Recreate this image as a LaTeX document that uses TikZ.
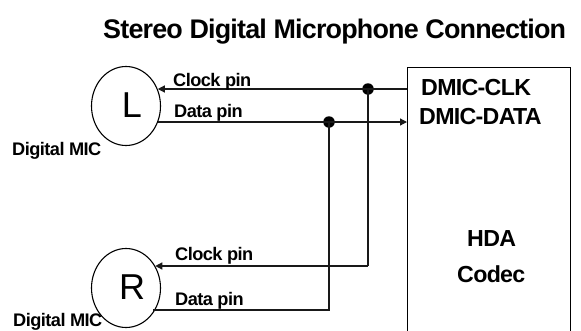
\documentclass[tikz,border=0pt]{standalone}
\usepackage{fontspec}
\setmainfont{Liberation Sans}
\newfontfamily\tightbold[LetterSpace=-3,BoldFont={Liberation Sans Bold}]{Liberation Sans}
\usetikzlibrary{shapes.geometric,arrows.meta}
\tikzset{
  x=1pt,y=-1pt,
  wire/.style={line width=1.2pt,black!90},
  arrowwire/.style={wire,-{Triangle[length=7pt,width=7pt]}},
  mic/.style={draw,ellipse,line width=1.1pt,minimum width=69pt,minimum height=79pt,inner sep=0pt},
  junction/.style={circle,fill=black,inner sep=0pt,minimum size=11.5pt},
  lbl/.style={inner sep=0pt,anchor=base west,font=\tightbold\bfseries\fontsize{18.2}{20}\selectfont},
  biglbl/.style={inner sep=0pt,anchor=base west,font=\tightbold\bfseries\fontsize{23.2}{26}\selectfont},
  title/.style={inner sep=0pt,anchor=base west,font=\tightbold\bfseries\fontsize{26.9}{30}\selectfont},
  letter/.style={font=\fontsize{36}{40}\selectfont}
}
\begin{document}
\begin{tikzpicture}
\useasboundingbox (0,0) rectangle (581,330);
\clip (0,0) rectangle (581,330);
\node[title] (t) at (103,38) {Stereo Digital Microphone Connection};
\node[mic] (micL) at (126,106) {};
\node[mic] (micR) at (126,288) {};
\node[letter] (letL) at (132,105) {L};
\node[letter] (letR) at (132,287) {R};
\node[draw,line width=1.2pt,minimum width=163pt,minimum height=280pt,inner sep=0pt,anchor=north west] (codec) at (407,67) {};
\node[junction] (jc) at (368,89) {};
\node[junction] (jd) at (329,122) {};
\coordinate (cL) at (micL.28.6);
\coordinate (dL) at (micL.-27);
\coordinate (cR) at (micR.37);
\coordinate (dR) at (micR.-43);
\coordinate (cornC) at (368,266);
\coordinate (cornD) at (329,310);
\draw[arrowwire] (jc.center) -- (cL |- jc);
\draw[wire] (codec.west |- jc) -- (jc.center);
\draw[wire] (dL |- jd) -- (jd.center);
\draw[arrowwire] (jd.center) -- (codec.west |- jd);
\draw[wire] (jc.center) -- (cornC);
\draw[arrowwire] (cornC) -- (cR |- cornC);
\draw[wire] (jd.center) -- (cornD) -- (dR |- cornD);
\node[lbl] (a) at (173,86) {Clock pin};
\node[lbl] (b) at (174,117) {Data pin};
\node[lbl] (c) at (175,260) {Clock pin};
\node[lbl] (d) at (175,305) {Data pin};
\node[lbl] (e) at (12,155) {Digital MIC};
\node[lbl] (f) at (13,326) {Digital MIC};
\node[biglbl] (g) at (421,95) {DMIC-CLK};
\node[biglbl] (h) at (419,124) {DMIC-DATA};
\node[biglbl] (i) at (467,246) {HDA};
\node[biglbl] (j) at (457,282) {Codec};
\end{tikzpicture}
\end{document}
